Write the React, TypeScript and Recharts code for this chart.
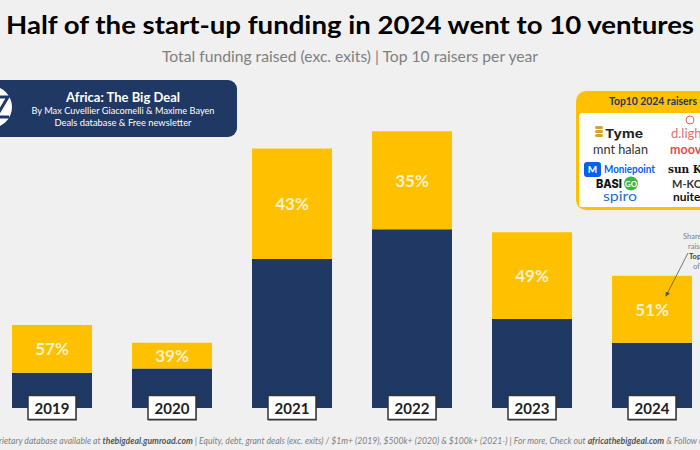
import { BarChart, Bar, XAxis, YAxis, LabelList } from 'recharts';

const years = ['2019', '2020', '2021', '2022', '2023', '2024'];
// $M raised, split between the year's top 10 raisers and everyone else
const restFunding = [590, 660, 2490, 2990, 1490, 1090];
const top10Funding = [800, 430, 1850, 1640, 1450, 1120];
const top10Share = ['57%', '39%', '43%', '35%', '49%', '51%'];

const NAVY = '#1f3864';
const GOLD = '#ffc000';
const GREY = '#7f7f7f';

const YearBox = (props: any) => {
  const { x, y, width, height, value } = props;
  const cx = x + width / 2;
  const base = y + height;
  return (
    <g>
      <rect x={cx - 23} y={base - 11} width={48} height={24} fill="rgba(0,0,0,0.25)" />
      <rect x={cx - 24} y={base - 12.5} width={48} height={24} fill="#fff" stroke="#333" strokeWidth={1.5} />
      <text x={cx} y={base} textAnchor="middle" dominantBaseline="central" fontFamily="Lato" fontWeight={700} fontSize={15} fill="#222">
        {value}
      </text>
    </g>
  );
};

const ShareLabel = (props: any) => {
  const { x, y, width, height, value } = props;
  return (
    <text x={x + width / 2} y={y + height / 2} textAnchor="middle" dominantBaseline="central" fontFamily="Lato" fontWeight={700} fontSize={17} fill="#fff2cc">
      {value}
    </text>
  );
};

export default function App() {
  const data = years.map((year, i) => ({ year, rest: restFunding[i], top10: top10Funding[i], share: top10Share[i] }));

  return (
    <div style={{ position: 'absolute', left: 0, top: 0, width: 700, height: 450, background: '#f0f0f0', overflow: 'hidden', fontFamily: 'Lato, sans-serif' }}>
      <div style={{ position: 'absolute', left: -8, top: 0 }}>
        <BarChart width={720} height={450} data={data} margin={{ top: 109, right: 0, bottom: 42, left: 0 }}>
          <XAxis dataKey="year" hide />
          <YAxis hide domain={[0, 5000]} />
          <Bar dataKey="rest" stackId="f" fill={NAVY} barSize={80} isAnimationActive={false}>
            <LabelList dataKey="year" content={YearBox} />
          </Bar>
          <Bar dataKey="top10" stackId="f" fill={GOLD} barSize={80} isAnimationActive={false}>
            <LabelList dataKey="share" content={ShareLabel} />
          </Bar>
        </BarChart>
      </div>

      <svg width={700} height={450} style={{ position: 'absolute', left: 0, top: 0, pointerEvents: 'none' }}>
        <defs>
          <marker id="arr" markerWidth="6" markerHeight="6" refX="5" refY="3" orient="auto">
            <path d="M0,0 L6,3 L0,6 z" fill="#555" />
          </marker>
        </defs>

        {/* title + subtitle */}
        <text x={6} y={34} fontFamily="Lato" fontWeight={700} fontSize={25} fill="#000" textLength={688} lengthAdjust="spacingAndGlyphs">
          Half of the start-up funding in 2024 went to 10 ventures
        </text>
        <text x={162} y={62} fontFamily="Lato" fontSize={15} fill={GREY} textLength={376} lengthAdjust="spacingAndGlyphs">
          Total funding raised (exc. exits) | Top 10 raisers per year
        </text>

        {/* Big Deal banner */}
        <rect x={-12} y={80} width={249} height={57} rx={9} fill={NAVY} />
        <circle cx={-9} cy={107} r={21} fill="#fff" />
        <path d="M-6,97 L8,97 L-4,117 L9,117" stroke={NAVY} strokeWidth={3} fill="none" />
        <text x={123} y={102} textAnchor="middle" fontFamily="Lato" fontWeight={700} fontSize={13} fill="#fff">Africa: The Big Deal</text>
        <text x={123} y={114} textAnchor="middle" fontFamily="Lato" fontSize={9.5} fill="#fff" textLength={183} lengthAdjust="spacingAndGlyphs">
          By Max Cuvellier Giacomelli &amp; Maxime Bayen
        </text>
        <text x={123} y={126} textAnchor="middle" fontFamily="Lato" fontSize={9.5} fill="#fff" textLength={137} lengthAdjust="spacingAndGlyphs">
          Deals database &amp; Free newsletter
        </text>

        {/* Top 10 2024 raisers box */}
        <rect x={576} y={91} width={140} height={119} rx={10} fill={GOLD} />
        <rect x={579} y={113} width={140} height={94} rx={3} fill="#fff" />
        <text x={609} y={105} fontFamily="Lato" fontWeight={700} fontSize={11} fill={NAVY} textLength={88} lengthAdjust="spacingAndGlyphs">Top10 2024 raisers</text>

        <rect x={595} y={126} width={8} height={3} rx={1.5} fill="#d4a72c" />
        <rect x={595} y={130} width={8} height={3} rx={1.5} fill="#d4a72c" />
        <rect x={595} y={134} width={8} height={3} rx={1.5} fill="#d4a72c" />
        <text x={605} y={138} fontFamily="Inter" fontWeight={700} fontSize={12} fill="#222" textLength={38} lengthAdjust="spacingAndGlyphs">Tyme</text>
        <text x={593} y={154} fontFamily="Lato" fontSize={12.5} fill="#333" textLength={55} lengthAdjust="spacingAndGlyphs">mnt halan</text>
        <rect x={584} y={162} width={17} height={15} rx={3} fill="#0361f0" />
        <text x={592.5} y={173} textAnchor="middle" fontFamily="Lato" fontWeight={700} fontSize={10} fill="#fff">M</text>
        <text x={604} y={173} fontFamily="Lato" fontWeight={700} fontSize={10.5} fill="#0361f0" textLength={51} lengthAdjust="spacingAndGlyphs">Moniepoint</text>
        <text x={596} y={188} fontFamily="Inter" fontWeight={800} fontSize={12} fill="#111" textLength={26} lengthAdjust="spacingAndGlyphs">BASI</text>
        <circle cx={631} cy={183.5} r={7} fill="#3bb54a" />
        <text x={631} y={186.5} textAnchor="middle" fontFamily="Lato" fontWeight={700} fontSize={8} fill="#fff">GO</text>
        <text x={603} y={201} fontFamily="Lato" fontSize={13} fill="#1e6fd9" textLength={34} lengthAdjust="spacingAndGlyphs">spiro</text>

        <circle cx={690} cy={120} r={4} fill="none" stroke="#e06060" strokeWidth={1} />
        <text x={671} y={138} fontFamily="Lato" fontSize={13} fill="#e07070">d.light</text>
        <text x={670} y={154} fontFamily="Lato" fontWeight={700} fontSize={12.5} fill="#d9534f">moove</text>
        <text x={668} y={173} fontFamily="DejaVu Serif" fontWeight={700} fontSize={10.5} fill="#111">sun King</text>
        <text x={672} y={188} fontFamily="Lato" fontWeight={700} fontSize={11} fill="#333">M-KOPA</text>
        <text x={673} y={201} fontFamily="Lato" fontWeight={700} fontSize={12} fill="#111">nuitee</text>

        {/* annotation */}
        <text fontFamily="Lato" fontSize={7.5} fill={GREY}>
          <tspan x={683} y={239}>Share of funds</tspan>
          <tspan x={688} y={249}>raised by the</tspan>
          <tspan x={689} y={259} fontWeight={700} fill="#444">Top 10</tspan>
          <tspan x={693} y={269}>of the year</tspan>
        </text>
        <line x1={688} y1={253} x2={666} y2={296} stroke="#555" strokeWidth={0.8} markerEnd="url(#arr)" />

        {/* footer */}
        <text x={-1} y={444} fontFamily="Lato" fontStyle="italic" fontSize={9} fill={GREY} textLength={708} lengthAdjust="spacingAndGlyphs">
          rietary database available at <tspan fontWeight={700} fill="#555">thebigdeal.gumroad.com</tspan> | Equity, debt, grant deals (exc. exits) / $1m+ (2019), $500k+ (2020) &amp; $100k+ (2021-) | For more, Check out <tspan fontWeight={700} fill="#555">africathebigdeal.com</tspan> &amp; Follow us
        </text>
      </svg>
    </div>
  );
}
